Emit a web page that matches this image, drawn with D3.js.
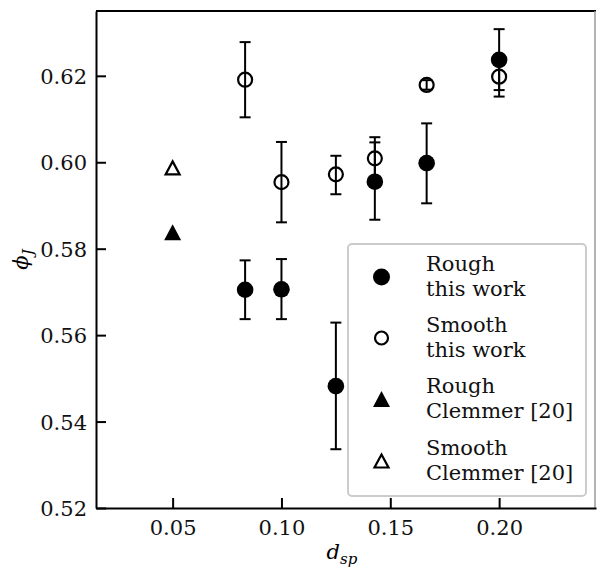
<!DOCTYPE html>
<html>
<head>
<meta charset="utf-8">
<script src="https://cdn.jsdelivr.net/npm/d3@7"></script>
<style>
  body { margin: 0; background: #fff; }
  svg { display: block; }
</style>
</head>
<body>
<svg id="chart" width="597" height="573"></svg>
<script>
// d_sp values (this work)
let dsp = [0.0833, 0.1, 0.125, 0.1429, 0.1667, 0.2];

let roughPhi = [0.5705, 0.5706, 0.5482, 0.5955, 0.5998, 0.6237];
let roughLo  = [0.5637, 0.5637, 0.5336, 0.5867, 0.5905, 0.6167];
let roughHi  = [0.5773, 0.5776, 0.5629, 0.6046, 0.6090, 0.6308];

let smoothPhi = [0.6191, 0.5954, 0.5972, 0.6009, 0.6179, 0.6198];
let smoothLo  = [0.6104, 0.5861, 0.5926, 0.5962, 0.6168, 0.6152];
let smoothHi  = [0.6278, 0.6047, 0.6015, 0.6058, 0.6190, 0.6244];

let clemmerDsp = [0.05];
let clemmerRough = [0.5838];
let clemmerSmooth = [0.5987];

let xTicks = [0.05, 0.10, 0.15, 0.20];
let yTicks = [0.52, 0.54, 0.56, 0.58, 0.60, 0.62];

let legendLabels = [["Rough", "this work"], ["Smooth", "this work"], ["Rough", "Clemmer [20]"], ["Smooth", "Clemmer [20]"]];

function drawVis(svgId) {
  let svg = d3.select(svgId);
  let fontFamily = "DejaVu Serif";
  let black = "#000";

  let left = 96, right = 596, top = 11, bottom = 508;

  let x = d3.scaleLinear().domain([0.0148, 0.2445]).range([left, right]);
  let y = d3.scaleLinear().domain([0.52, 0.635]).range([bottom, top]);

  // frame
  svg.append("line").attr("x1", left).attr("x2", right).attr("y1", top).attr("y2", top)
    .style("stroke", black).style("stroke-width", 2);
  svg.append("line").attr("x1", right - 1).attr("x2", right - 1).attr("y1", top).attr("y2", bottom)
    .style("stroke", "#999").style("stroke-width", 1.5);

  let xAxis = d3.axisBottom(x).tickValues(xTicks).tickSizeInner(-10).tickSizeOuter(0)
    .tickPadding(12).tickFormat(d3.format(".2f"));
  let yAxis = d3.axisLeft(y).tickValues(yTicks).tickSizeInner(-10).tickSizeOuter(0)
    .tickPadding(9).tickFormat(d3.format(".2f"));

  let gx = svg.append("g").attr("transform", "translate(0," + bottom + ")").call(xAxis);
  let gy = svg.append("g").attr("transform", "translate(" + left + ",0)").call(yAxis);

  [gx, gy].forEach(function(g) {
    g.select(".domain").style("stroke", black).style("stroke-width", 2);
    g.selectAll(".tick line").style("stroke", black).style("stroke-width", 2);
    g.selectAll(".tick text")
      .style("font-family", fontFamily)
      .style("font-size", "21px")
      .style("fill", "#111");
  });
  gx.selectAll(".tick text").attr("dy", "0.71em");
  gy.selectAll(".tick text").attr("dy", "0.36em");

  // axis labels
  let xl = svg.append("text")
    .attr("x", (left + right) / 2 - 4)
    .attr("y", 559)
    .style("text-anchor", "middle")
    .style("font-family", fontFamily)
    .style("font-size", "21px");
  xl.append("tspan").style("font-style", "italic").text("d");
  xl.append("tspan").attr("dy", 5).style("font-style", "italic").style("font-size", "15px").text("sp");

  let yl = svg.append("text")
    .attr("transform", "translate(28," + ((top + bottom) / 2) + ") rotate(-90)")
    .style("text-anchor", "middle")
    .style("font-family", fontFamily)
    .style("font-size", "21px");
  yl.append("tspan").style("font-style", "italic").text("ϕ");
  yl.append("tspan").attr("dy", 5).style("font-style", "italic").style("font-size", "15px").text("J");

  let capW = 5.5;

  function errorBars(xs, lo, hi) {
    let g = svg.append("g");
    xs.forEach(function(d, i) {
      g.append("line")
        .attr("x1", x(d)).attr("x2", x(d))
        .attr("y1", y(lo[i])).attr("y2", y(hi[i]))
        .style("stroke", black).style("stroke-width", 2);
      [lo[i], hi[i]].forEach(function(v) {
        g.append("line")
          .attr("x1", x(d) - capW).attr("x2", x(d) + capW)
          .attr("y1", y(v)).attr("y2", y(v))
          .style("stroke", black).style("stroke-width", 2);
      });
    });
  }

  function triPath(cx, cy, hw, hh) {
    return "M" + cx + "," + (cy - hh) + "L" + (cx + hw) + "," + (cy + hh) + "L" + (cx - hw) + "," + (cy + hh) + "Z";
  }

  // smooth this work (open circles)
  errorBars(dsp, smoothLo, smoothHi);
  svg.append("g").selectAll("circle")
    .data(dsp)
    .enter().append("circle")
      .attr("cx", (d) => x(d))
      .attr("cy", (d, i) => y(smoothPhi[i]))
      .attr("r", 7)
      .style("fill", "none")
      .style("stroke", black)
      .style("stroke-width", 2.2);

  // rough this work (filled circles)
  errorBars(dsp, roughLo, roughHi);
  svg.append("g").selectAll("circle")
    .data(dsp)
    .enter().append("circle")
      .attr("cx", (d) => x(d))
      .attr("cy", (d, i) => y(roughPhi[i]))
      .attr("r", 8.3)
      .style("fill", black);

  // Clemmer
  svg.append("g").selectAll("path")
    .data(clemmerDsp)
    .enter().append("path")
      .attr("d", (d, i) => triPath(x(d), y(clemmerRough[i]), 8.5, 8))
      .style("fill", black);
  svg.append("g").selectAll("path")
    .data(clemmerDsp)
    .enter().append("path")
      .attr("d", (d, i) => triPath(x(d), y(clemmerSmooth[i]), 7, 6.5))
      .style("fill", "none")
      .style("stroke", black)
      .style("stroke-width", 2.2)
      .style("stroke-linejoin", "miter");

  // legend
  let lg = svg.append("g");
  lg.append("rect")
    .attr("x", 348).attr("y", 244)
    .attr("width", 238).attr("height", 252)
    .attr("rx", 4)
    .style("fill", "rgba(255,255,255,0.8)")
    .style("stroke", "#ccc")
    .style("stroke-width", 2);

  let markerX = 381.5;
  let rowY = [277, 338, 399, 461];
  legendLabels.forEach(function(lines, i) {
    let cy = rowY[i];
    if (i == 0) {
      lg.append("circle").attr("cx", markerX).attr("cy", cy).attr("r", 8.5).style("fill", black);
    } else if (i == 1) {
      lg.append("circle").attr("cx", markerX).attr("cy", cy).attr("r", 6.5)
        .style("fill", "none").style("stroke", black).style("stroke-width", 2.2);
    } else if (i == 2) {
      lg.append("path").attr("d", triPath(markerX, cy, 8.5, 8)).style("fill", black);
    } else {
      lg.append("path").attr("d", triPath(markerX, cy, 7, 6.5))
        .style("fill", "none").style("stroke", black).style("stroke-width", 2.2);
    }
    lines.forEach(function(t, j) {
      lg.append("text")
        .attr("x", 426)
        .attr("y", cy - 6 + 25 * j)
        .text(t)
        .style("font-family", fontFamily)
        .style("font-size", "21px")
        .style("fill", "#111");
    });
  });
}

drawVis("#chart");
</script>
</body>
</html>
